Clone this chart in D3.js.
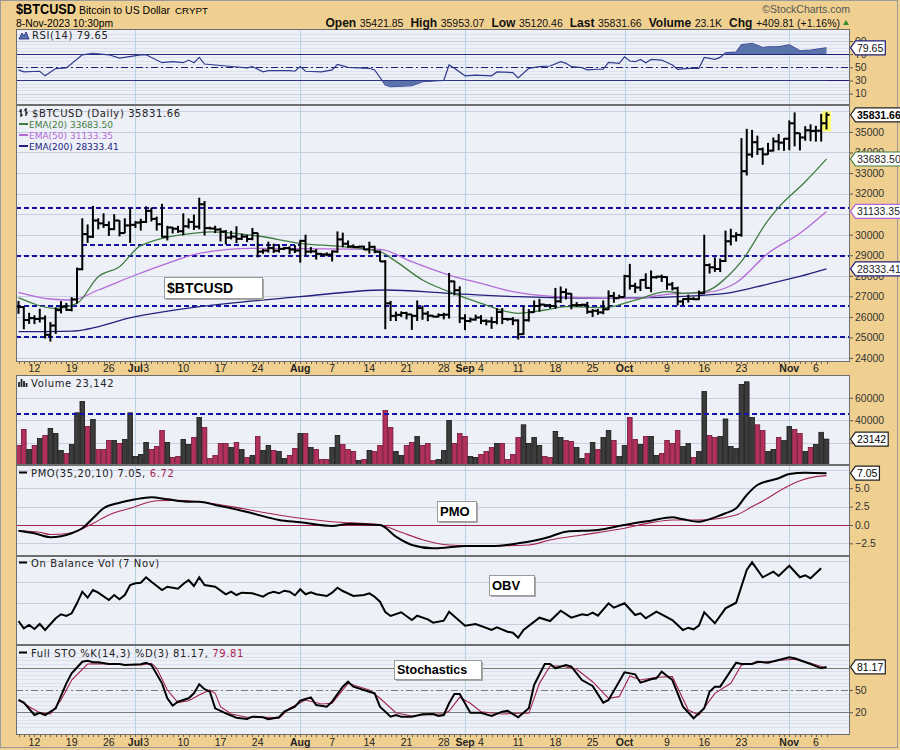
<!DOCTYPE html>
<html><head><meta charset="utf-8">
<script src="https://cdn.jsdelivr.net/npm/d3@7/dist/d3.min.js"></script>
<style>body{margin:0;background:#F0D090;}svg{display:block;}</style>
</head><body>
<svg id="chart" width="900" height="750"></svg>
<script>
// ---------------- DATA ----------------
const startDate = "2023-06-09"; // first daily bar; one bar per calendar day
const opens = [26500,26480,25850,25940,25900,25930,25130,25580,26330,26510,
26340,26850,28320,30030,29900,30690,30550,30470,30270,30690,
30080,30450,30480,30590,30620,31160,30770,30510,29900,30350,
30290,30170,30410,30620,30390,31480,30320,30300,30250,30150,
29860,29910,29800,29910,29790,30080,29180,29230,29350,29220,
29310,29350,29280,29230,29700,29180,29190,29070,29040,29030,
29180,29770,29560,29430,29400,29420,29280,29410,29170,28700,
26660,26050,26100,26190,26120,26050,26430,26160,26060,26010,
26090,26110,27730,27300,25930,25800,25870,25970,25810,25780,
25750,26240,25900,25890,25830,25160,25840,26230,26530,26600,
26570,26530,26760,27210,27130,26570,26580,26590,26250,26300,
26220,26370,27020,26910,26970,27980,27510,27430,27800,27410,
27930,27960,27940,27580,27390,26750,26870,26880,26860,27150,
28520,28410,28330,28720,29680,29920,29990,33090,33900,34500,
34160,33910,34090,34540,34480,34670,35420,34940,34730,35080,
35050,35060,35421.85];
const highs = [26780,26530,26200,26080,26400,26070,25750,26460,26770,26680,
26960,28400,30800,30500,31400,30800,31040,30650,31000,30700,
30800,31280,30660,30780,31380,31320,30880,31500,30430,30380,
30430,31040,30790,30980,31800,31640,30390,30440,30330,30230,
30190,30410,30050,29990,30330,30100,29300,29660,29560,29530,
29410,29440,29490,29750,30000,29400,29300,29100,29140,29240,
30160,30100,29720,29530,29460,29460,29660,29460,29230,28760,
26780,26260,26270,26250,26130,26800,26550,26280,26080,26170,
26200,28140,27760,27490,26130,25970,26110,26090,25880,26000,
26420,26430,25940,25990,25880,26540,26380,26800,26880,26620,
26630,27410,27480,27380,27150,26720,26640,26730,26380,26390,
26800,27290,27210,27080,28050,28580,27660,27830,28120,28260,
28000,28060,27980,27700,27470,26900,27080,26960,27280,30000,
28600,28900,28840,30200,30290,30120,34700,35150,35100,34820,
34240,34470,34730,34900,34700,35560,35950,34950,35280,35370,
35300,35880,35953.07];
const lows = [26150,25400,25660,25650,25730,24950,24800,25170,26170,26290,
26270,26650,28270,29600,29840,30260,30330,29940,30220,29920,
30070,29600,30330,30200,30570,30640,30200,29860,29720,30060,
30090,29970,30300,30230,30260,29960,30260,30080,29670,29530,
29770,29590,29740,29640,29730,28900,29070,29130,29110,29130,
29260,29050,29110,28640,28980,29100,28790,28960,28950,28700,
29120,29390,29370,29360,29360,29250,29080,29100,28700,25400,
25800,25800,26000,25880,25370,25800,25860,25790,25980,25980,
25880,25920,27050,25700,25360,25730,25820,25650,25590,25420,
25640,25650,25810,25600,24900,25130,25770,26210,26250,26480,
26410,26390,26680,26850,26370,26490,26510,26150,26000,26100,
26130,26330,26690,26900,26950,27330,27160,27260,27380,27200,
27860,27700,27320,27290,26560,26560,26700,26820,26820,27110,
28110,28190,28180,28670,29480,29670,29900,32880,33750,33880,
33400,33890,34050,34110,34080,34110,34300,34100,34570,34550,
34530,34530,35120.46];
const closes = [26480,25850,25940,25900,25930,25130,25580,26330,26510,26340,
26850,28320,30030,29900,30690,30550,30470,30270,30690,30080,
30450,30480,30590,30620,31160,30770,30510,29900,30350,30290,
30170,30410,30620,30390,31480,30320,30300,30250,30150,29860,
29910,29800,29910,29790,30080,29180,29230,29350,29220,29310,
29350,29280,29230,29700,29180,29190,29070,29040,29030,29180,
29770,29560,29430,29400,29420,29280,29410,29170,28700,26660,
26050,26100,26190,26120,26050,26430,26160,26060,26010,26090,
26110,27730,27300,25930,25800,25870,25970,25810,25780,25750,
26240,25900,25890,25830,25160,25840,26230,26530,26600,26570,
26530,26760,27210,27130,26570,26580,26590,26250,26300,26220,
26370,27020,26910,26970,27980,27510,27430,27800,27410,27930,
27960,27940,27580,27390,26750,26870,26880,26860,27150,28520,
28410,28330,28720,29680,29920,29990,33090,33900,34500,34160,
33910,34090,34540,34480,34670,35420,34940,34730,35080,35050,
35060,35421.85,35831.66];
const volumes = [17400,31700,13800,17400,23700,26300,32600,28100,13000,10300,
18300,46600,56700,34400,40600,13800,13800,21900,21900,19200,
22800,46600,7600,9400,20100,13800,16500,30800,20100,6700,
7600,22800,18300,24600,42400,33500,5800,8500,19200,19200,
15600,20100,13800,6700,8500,25500,13000,17400,13000,12100,
5800,8500,14700,28100,28100,15600,13800,4900,4900,15600,
26300,18300,13800,12100,4000,4900,13000,12100,17400,48700,
33500,12100,8500,17400,20100,25500,17400,19200,4000,4900,
12900,39700,19200,28100,25500,7600,6700,9400,12100,15600,
19200,19200,4900,9400,24600,35900,19200,24600,17400,7600,
6700,30000,24600,21900,21000,15600,5800,10300,20100,13800,
24600,30800,21900,7600,17400,42400,22800,18300,25500,25500,
8500,10300,21900,19200,30800,16500,19200,6700,12100,65600,
26300,24600,25500,41100,16500,14700,71900,74300,42400,35900,
30800,12100,13800,24600,21900,34400,31700,28100,12100,15600,
18300,29200,23142];
// indicator readings: [day index, value]
const ema20 = [[0,26935],[7,26418],[11,26660],[15,27956],[19,28443],[23,29465],[34,30097],[36,30140],[45,29937],[53,29580],[61,29416],[68,29173],[71,28700],[76,27796],[81,27226],[87,26662],[94,26175],[99,26336],[103,26496],[110,26450],[116,26822],[122,27226],[125,27148],[129,27226],[134,28122],[136,28700],[141,30700],[143,31333],[148,32579],[152,33683.5]];
const ema50 = [[0,27197],[6,26871],[10,26822],[15,27309],[22,28039],[28,28608],[34,29095],[44,29338],[53,29320],[68,29290],[74,28686],[81,28039],[87,27635],[93,27226],[101,26983],[111,26905],[116,26900],[122,27100],[125,27148],[129,27178],[135,27665],[141,29095],[147,30068],[152,31133.35]];
const ema200 = [[0,25280],[10,25310],[22,26010],[34,26496],[53,26983],[69,27309],[81,27148],[94,26983],[111,26900],[128,27040],[134,27180],[141,27600],[147,27970],[152,28333.41]];
const rsi = [[0,46],[1,43],[4,44],[5,37],[7,48],[9,49],[12,69],[14,71],[17,69],[19,64],[23,69],[24,69],[27,57],[29,58.5],[31,57],[32,61],[33,57],[34,65],[35,55],[39,52],[43,49],[44,51],[46,43],[47,45],[51,45],[52,44],[53,51],[54,44],[57,43],[59,46],[60,54.5],[62,50],[66,48.5],[67,46],[69,23],[70,20.5],[74,22],[76,28],[79,29.6],[80,30],[81,53.5],[82,48.5],[84,37],[86,38],[89,37],[90,43],[93,42],[94,34],[96,48.5],[98,51],[100,52],[102,58.5],[103,56],[104,51],[106,49.4],[107,46],[109,47],[110,47],[111,57.6],[113,56],[114,66],[115,59.6],[116,58.5],[117,62],[118,57],[119,62],[121,61],[123,53.5],[124,47],[126,48.5],[128,48.5],[129,65],[131,62],[132,65],[133,72],[135,73],[136,84],[138,86.5],[140,80],[141,81],[143,81],[145,84],[147,75],[149,76],[152,79.65]];
const pmo = [[0,-0.78],[3,-1.13],[6,-1.67],[10,-1.13],[12,-0.45],[14,0.91],[16,2.27],[19,3.03],[22,3.5],[25,3.77],[28,3.5],[32,3.17],[34,3.17],[37,2.72],[40,2.27],[44,1.59],[49,0.68],[53,0.37],[59,-0.14],[62,0.14],[68,0],[71,-1.59],[74,-2.72],[78,-3.17],[81,-3.03],[84,-2.86],[89,-2.86],[94,-2.49],[100,-1.59],[103,-0.91],[109,-0.68],[114,0],[119,0.59],[123,1.04],[125,0.77],[128,0.45],[131,1.04],[133,1.59],[135,2.27],[137,4.08],[139,5.44],[143,6.35],[145,6.94],[148,7.12],[152,7.05]];
const pmoSignal = [[0,-0.78],[4,-1.0],[6,-1.3],[9,-1.2],[12,-0.5],[14,0.2],[17,1.36],[21,2.27],[26,3.3],[29,3.35],[34,3.17],[40,2.5],[47,1.59],[53,0.91],[59,0.45],[68,0],[72,-1.0],[76,-2.0],[81,-2.72],[87,-2.86],[96,-2.72],[100,-2.04],[106,-1.36],[114,-0.45],[119,0.32],[123,0.68],[128,0.68],[135,1.36],[138,2.5],[141,3.67],[144,5.0],[147,6.03],[150,6.58],[152,6.72]];
const obv = [[0,380],[1,234],[2,300],[3,220],[4,320],[5,200],[7,434],[8,514],[9,480],[10,534],[11,734],[12,966],[13,846],[14,1000],[15,946],[17,800],[18,900],[19,814],[20,900],[21,1100],[22,1134],[23,1146],[24,1254],[25,1166],[27,1000],[28,1066],[30,1026],[31,1120],[32,1200],[33,1080],[34,1254],[35,1100],[37,1066],[39,914],[40,966],[41,900],[42,946],[44,934],[46,866],[47,934],[48,966],[49,934],[50,986],[51,966],[52,894],[53,1014],[54,914],[55,954],[56,914],[58,880],[59,946],[60,1046],[61,980],[63,880],[65,900],[66,934],[67,866],[68,766],[69,560],[70,480],[72,554],[74,400],[75,486],[77,414],[78,346],[80,386],[81,566],[84,286],[86,320],[89,200],[90,254],[92,166],[93,146],[94,46],[95,200],[98,446],[100,380],[102,586],[104,446],[106,514],[107,494],[108,546],[109,486],[111,734],[112,646],[114,734],[116,500],[117,534],[118,434],[120,566],[123,400],[125,200],[126,246],[127,214],[128,286],[129,554],[131,334],[133,634],[135,746],[137,1400],[138,1554],[140,1254],[142,1366],[143,1280],[145,1486],[147,1254],[148,1294],[149,1234],[151,1434]];
const stoK = [[0,36.5],[1,32.9],[3,16.2],[4,19.3],[5,16.2],[7,25.3],[9,59],[10,72.5],[12,88.2],[13,89.6],[14,87.4],[15,87.4],[17,85.1],[19,85.1],[20,83.8],[23,84.7],[24,86.9],[25,83.8],[27,59],[28,38.8],[29,28.8],[30,34.2],[32,38.8],[33,45.5],[34,57.7],[35,51],[36,47.7],[37,25.3],[39,18.5],[41,12.6],[43,10.8],[44,14],[46,13.1],[47,10.4],[49,13.1],[50,20.7],[52,27.4],[53,35.5],[55,40.1],[56,29.7],[58,27.4],[59,34.2],[61,54.5],[62,61.2],[63,54.5],[66,47.7],[67,45.5],[68,27.4],[70,14],[71,16.2],[72,14],[74,14],[76,17.2],[78,17.6],[79,14.9],[80,16.2],[81,32],[82,44.6],[83,44.6],[85,19.3],[87,19.3],[89,14.9],[91,20.7],[92,22],[94,13.1],[96,25.3],[97,56.8],[99,85.1],[100,85.1],[101,79.3],[103,83.8],[104,81.5],[106,63.5],[108,55.4],[110,32.9],[111,36.5],[114,73.9],[116,71.2],[117,59.9],[119,64.5],[120,65.8],[121,74.7],[123,63.5],[125,27.4],[127,11.8],[129,25.3],[130,47.7],[131,54.5],[132,54.5],[135,86.9],[136,85.1],[138,85.1],[139,88.2],[141,86.9],[143,90.5],[145,94.2],[146,92.8],[149,85.1],[151,79.3],[152,81.17]];
const stoD = [[0,36.5],[2,27.4],[4,19.3],[6,17.6],[8,36.5],[10,63.5],[13,85.1],[15,85.5],[23,83.8],[25,86],[26,79.3],[28,50],[30,32.9],[32,35.5],[34,43.2],[36,50],[37,45.5],[38,27.4],[40,17.6],[43,13.1],[47,13.1],[49,11.8],[51,25.3],[54,36.5],[57,31],[59,32],[62,59],[66,50],[68,38.8],[71,19.3],[74,14.9],[78,17.6],[80,17.6],[81,21.6],[83,40.1],[85,32],[87,20.7],[91,17.6],[94,18.5],[96,18.5],[98,59],[100,82.4],[102,82.4],[105,78],[108,61.2],[111,38.8],[113,41],[115,68.9],[117,63.5],[120,67.2],[123,68],[126,23],[128,16.2],[131,45.5],[134,59],[136,83.8],[139,86.9],[144,90.5],[146,91.5],[149,86.1],[152,79.81]];
const priceLevels = [[31333,0,152],[29000,0,152],[26600,0,152],[25050,0,152],[29530,12,53]];
const volumeLevel = 46900;
const tickLabels = [["2023-06-12","12"],["2023-06-19","19"],["2023-06-26","26"],["2023-07-01","Jul"],["2023-07-03","3"],["2023-07-10","10"],["2023-07-17","17"],["2023-07-24","24"],["2023-08-01","Aug"],["2023-08-07","7"],["2023-08-14","14"],["2023-08-21","21"],["2023-08-28","28"],["2023-09-01","Sep"],["2023-09-04","4"],["2023-09-11","11"],["2023-09-18","18"],["2023-09-25","25"],["2023-10-01","Oct"],["2023-10-09","9"],["2023-10-16","16"],["2023-10-23","23"],["2023-11-01","Nov"],["2023-11-06","6"]];
const priceTicks = [24000,25000,26000,27000,28000,29000,30000,32000,33000,34000,35000];
const priceGrid = [24000,25000,26000,27000,28000,29000,30000,31000,32000,33000,34000,35000,36000];
const rsiTicks = [10,30,50,70,90];
const volTicks = [20000,40000,60000];
const pmoTicks = [-2.5,0,2.5,5];
const stoTicks = [20,50];
const obvGrid = [330,750,1170,1590];
const headerStats = [["Open","35421.85"],["High","35953.07"],["Low","35120.46"],["Last","35831.66"],["Volume","23.1K"],["Chg","+409.81 (+1.16%)"]];

// ---------------- DRAW ----------------
const svg = d3.select("#chart");
const L = 16, R = 850;
const P = {rsi:[29,105], price:[105,362], vol:[375,465], pmo:[465,556], obv:[556,645], sto:[645,735]};
const BG = "#F0D090", PLOT = "#EEF0F8", GRID = "#C9CFDF", MINOR = "#DDE1EE", MONTH = "#B6D2E2";
const SANS = "'Liberation Sans', Arial, sans-serif", VER = "'DejaVu Sans', Verdana, sans-serif";
const NAVY = "#1E1E78", CRIM = "#A3234F";

svg.append("rect").attr("width",900).attr("height",750).attr("fill",BG);
svg.append("rect").attr("x",0.5).attr("y",0.5).attr("width",897).attr("height",747).attr("fill","none").attr("stroke","#9a9a9a");

const parse = d3.timeParse("%Y-%m-%d");
const start = parse(startDate);
const dayOf = i => d3.timeDay.offset(start, i);
const N = closes.length;
const x = d3.scaleTime().domain([dayOf(0), dayOf(N-1)]).range([18.5, 826.5]);
const xi = i => x(dayOf(i));

const yR = d3.scaleLinear().domain([-7.3,108.2]).range([105,29]);
const yP = d3.scaleLinear().domain([23806,36311]).range([362,105]);
const yV = d3.scaleLinear().domain([0,80400]).range([465,375]);
const yM = d3.scaleLinear().domain([-4.22,8.16]).range([556,465]);
const yO = d3.scaleLinear().domain([-100,1680]).range([645,556]);
const yS = d3.scaleLinear().domain([-10.8,110.8]).range([735,645]);

const defs = svg.append("defs");
Object.entries(P).forEach(([k,[y0,y1]]) => {
  svg.append("rect").attr("x",L).attr("y",y0).attr("width",R-L).attr("height",y1-y0).attr("fill",PLOT);
  defs.append("clipPath").attr("id","clip-"+k).append("rect").attr("x",L).attr("y",y0).attr("width",R-L).attr("height",y1-y0);
});
const layer = k => svg.append("g").attr("clip-path",`url(#clip-${k})`);

function hline(g, y, color, w, dash, x0=L, x1=R){
  const l = g.append("line").attr("x1",x0).attr("x2",x1).attr("y1",y).attr("y2",y)
    .attr("stroke",color).attr("stroke-width",w).attr("shape-rendering","crispEdges");
  if(dash) l.attr("stroke-dasharray",dash);
  return l;
}

// grids
const gR = layer("rsi");
d3.range(0,101,5).forEach(v => hline(gR, Math.round(yR(v))+0.5, MINOR, 1));
[10,90].forEach(v => hline(gR, Math.round(yR(v))+0.5, GRID, 1));
const gP = layer("price");
priceGrid.forEach(v => hline(gP, Math.round(yP(v))+0.5, GRID, 1));
const gV = layer("vol");
[20000,40000,60000,80000].forEach(v => hline(gV, Math.round(yV(v))+0.5, GRID, 1));
const gM = layer("pmo");
[-2.5,2.5,5,7.5].forEach(v => hline(gM, Math.round(yM(v))+0.5, GRID, 1));
const gO = layer("obv");
obvGrid.forEach(v => hline(gO, Math.round(yO(v))+0.5, GRID, 1));
const gS = layer("sto");
d3.range(0,101,5).forEach(v => hline(gS, Math.round(yS(v))+0.5, MINOR, 1));

// month lines
const monthStarts = tickLabels.filter(d => /[A-Za-z]/.test(d[1])).map(d => parse(d[0]));
[gR,gP,gV,gM,gO,gS].forEach((g,j) => {
  const [y0,y1] = Object.values(P)[j];
  monthStarts.forEach(d => g.append("line").attr("x1",Math.round(x(d))+0.5).attr("x2",Math.round(x(d))+0.5)
    .attr("y1",y0).attr("y2",y1).attr("stroke",MONTH).attr("stroke-width",1));
});

// ---- RSI ----
const FILL = "#5B73AB";
defs.append("clipPath").attr("id","rsiHi").append("rect").attr("x",L).attr("y",P.rsi[0]).attr("width",R-L).attr("height",yR(70)-P.rsi[0]);
defs.append("clipPath").attr("id","rsiLo").append("rect").attr("x",L).attr("y",yR(30)).attr("width",R-L).attr("height",P.rsi[1]-yR(30));
svg.append("path").datum(rsi).attr("d",d3.area().x(d=>xi(d[0])).y0(yR(70)).y1(d=>yR(d[1]))).attr("fill",FILL).attr("clip-path","url(#rsiHi)");
svg.append("path").datum(rsi).attr("d",d3.area().x(d=>xi(d[0])).y0(yR(30)).y1(d=>yR(d[1]))).attr("fill",FILL).attr("clip-path","url(#rsiLo)");
hline(gR, Math.round(yR(70))+0.5, NAVY, 1.3);
hline(gR, Math.round(yR(30))+0.5, NAVY, 1.3);
hline(gR, Math.round(yR(50))+0.5, NAVY, 1, "7,3,2,3");
gR.append("path").datum(rsi).attr("d",d3.line().x(d=>xi(d[0])).y(d=>yR(d[1]))).attr("fill","none").attr("stroke","#2E3A8C").attr("stroke-width",1.2);

// ---- PRICE ----
priceLevels.forEach(([v,a,b]) => {
  const x0 = (a===0) ? L : xi(a), x1 = (b===N-1) ? R : xi(b);
  hline(gP, Math.round(yP(v))+0.5, "#1414A8", 2, "5,3", x0, x1);
});
const emaLine = d3.line().x(d=>xi(d[0])).y(d=>yP(d[1])).curve(d3.curveMonotoneX);
gP.append("path").datum(ema200).attr("d",emaLine).attr("fill","none").attr("stroke","#22227E").attr("stroke-width",1.3);
gP.append("path").datum(ema50).attr("d",emaLine).attr("fill","none").attr("stroke","#B46AD6").attr("stroke-width",1.3);
gP.append("path").datum(ema20).attr("d",emaLine).attr("fill","none").attr("stroke","#3F7C3F").attr("stroke-width",1.3);
// last bar highlight
gP.append("rect").attr("x",xi(N-1)-4.5).attr("y",yP(highs[N-1])-1).attr("width",9).attr("height",yP(lows[N-1])-yP(highs[N-1])+3).attr("fill","#FFFF70");
const bars = gP.selectAll("g.bar").data(d3.range(N)).join("g").attr("class","bar");
bars.append("line").attr("x1",i=>xi(i)).attr("x2",i=>xi(i)).attr("y1",i=>yP(highs[i])).attr("y2",i=>yP(lows[i])).attr("stroke","#000").attr("stroke-width",2);
bars.append("line").attr("x1",i=>xi(i)-3).attr("x2",i=>xi(i)).attr("y1",i=>yP(opens[i])).attr("y2",i=>yP(opens[i])).attr("stroke","#000").attr("stroke-width",2);
bars.append("line").attr("x1",i=>xi(i)).attr("x2",i=>xi(i)+3).attr("y1",i=>yP(closes[i])).attr("y2",i=>yP(closes[i])).attr("stroke","#000").attr("stroke-width",2);

// ---- VOLUME ----
const isUp = i => i===0 ? closes[0]>=opens[0] : closes[i]>=closes[i-1];
gV.selectAll("rect.v").data(d3.range(N)).join("rect").attr("class","v")
  .attr("x",i=>xi(i)-2.3).attr("width",4.6)
  .attr("y",i=>yV(volumes[i])).attr("height",i=>yV(0)-yV(volumes[i]))
  .attr("fill",i=>isUp(i)?"#3C3C3C":"#B2305C").attr("stroke",i=>isUp(i)?"#161616":"#701535").attr("stroke-width",0.8);
hline(gV, Math.round(yV(volumeLevel))+0.5, "#1414A8", 2, "5,3");

// ---- PMO ----
hline(gM, Math.round(yM(0))+0.5, CRIM, 1.2);
const pl = d3.line().x(d=>xi(d[0])).y(d=>yM(d[1])).curve(d3.curveMonotoneX);
gM.append("path").datum(pmoSignal).attr("d",pl).attr("fill","none").attr("stroke",CRIM).attr("stroke-width",1.1);
gM.append("path").datum(pmo).attr("d",pl).attr("fill","none").attr("stroke","#000").attr("stroke-width",2);

// ---- OBV ----
gO.append("path").datum(obv).attr("d",d3.line().x(d=>xi(d[0])).y(d=>yO(d[1]))).attr("fill","none").attr("stroke","#000").attr("stroke-width",2);

// ---- STO ----
hline(gS, Math.round(yS(80))+0.5, "#7A7A7A", 1.2);
hline(gS, Math.round(yS(20))+0.5, "#7A7A7A", 1.2);
hline(gS, Math.round(yS(50))+0.5, "#7A7A7A", 1, "7,3,2,3");
const sl = d3.line().x(d=>xi(d[0])).y(d=>yS(d[1]));
gS.append("path").datum(stoD).attr("d",sl).attr("fill","none").attr("stroke",CRIM).attr("stroke-width",1.1);
gS.append("path").datum(stoK).attr("d",sl).attr("fill","none").attr("stroke","#000").attr("stroke-width",2);

// frames
Object.values(P).forEach(([y0,y1]) => svg.append("rect").attr("x",L+0.5).attr("y",y0+0.5).attr("width",R-L-1).attr("height",y1-y0-1)
  .attr("fill","none").attr("stroke","#6E6E6E").attr("stroke-width",1));

// right axes
function rightAxis(scale, vals, fmt){
  const g = svg.append("g").attr("transform",`translate(${R},0)`)
    .call(d3.axisRight(scale).tickValues(vals).tickFormat(fmt).tickSize(3).tickPadding(2));
  g.select(".domain").remove();
  g.selectAll("text").attr("font-family",SANS).attr("font-size","10.5px").attr("fill","#333");
  g.selectAll("line").attr("stroke","#555");
}
rightAxis(yR, rsiTicks, d3.format("d"));
rightAxis(yP, priceTicks, d3.format("d"));
rightAxis(yV, volTicks, d3.format("d"));
rightAxis(yM, pmoTicks, d3.format(".1f"));
rightAxis(yS, stoTicks, d3.format("d"));

// value tags
function tag(y, s, stroke, color, bold){
  const g = svg.append("g");
  const p = g.append("path");
  const t = g.append("text").attr("x",R+7).attr("y",y+4).text(s).attr("font-family",SANS)
    .attr("font-size","10.5px").attr("fill",color).attr("font-weight",bold?"bold":"normal");
  const w = t.node().getComputedTextLength();
  p.attr("d",`M${R+0.5},${y} L${R+5.5},${y-7} H${R+9+w} V${y+7} H${R+5.5} Z`).attr("fill","#fff").attr("stroke",stroke).attr("stroke-width",1.2);
}
tag(yR(79.65), "79.65", NAVY, "#111", false);
tag(yP(35831.66), "35831.66", "#222", "#000", true);
tag(yP(33683.50), "33683.50", "#3F7C3F", "#222", false);
tag(yP(31133.35), "31133.35", "#B46AD6", "#222", false);
tag(yP(28333.41), "28333.41", "#22227E", "#222", false);
tag(yV(23142), "23142", "#222", "#000", false);
tag(yM(7.05), "7.05", "#222", "#000", false);
tag(yS(81.17), "81.17", "#222", "#000", false);

// x-axis labels & day ticks
function xLabels(yBase, yTick){
  const g = svg.append("g");
  d3.range(N).forEach(i => g.append("line").attr("x1",Math.round(xi(i))+0.5).attr("x2",Math.round(xi(i))+0.5)
    .attr("y1",yTick).attr("y2",yTick+2).attr("stroke","#666").attr("stroke-width",1));
  tickLabels.forEach(([d,s]) => {
    const bold = /[A-Za-z]/.test(s);
    g.append("text").attr("x",x(parse(d))).attr("y",yBase).attr("text-anchor","middle").text(s)
      .attr("font-family",SANS).attr("font-size","10.5px").attr("font-weight",bold?"bold":"normal").attr("fill","#222");
  });
}
xLabels(372, 362);
xLabels(745.5, 735);

// header
function txt(xp, yp, s, o={}){
  const t = svg.append("text").attr("x",xp).attr("y",yp).text(s)
    .attr("font-family",o.f||SANS).attr("font-size",o.s||"11px").attr("fill",o.c||"#000");
  if(o.w) t.attr("font-weight",o.w);
  if(o.a) t.attr("text-anchor",o.a);
  if(o.ls) t.attr("letter-spacing",o.ls);
  if(o.tl) t.attr("textLength",o.tl).attr("lengthAdjust","spacingAndGlyphs");
  return t;
}
txt(16,14,"$BTCUSD",{s:"14px",w:"bold",tl:60});
txt(79,14,"Bitcoin to US Dollar",{s:"11px",tl:91});
txt(175,14,"CRYPT",{s:"9.5px",tl:33});
txt(16,26.5,"8-Nov-2023 10:30pm",{s:"10.5px",tl:97});
txt(850,13,"\u00A9StockCharts.com",{s:"10.5px",a:"end",c:"#555"});
const ht = svg.append("text").attr("x",840).attr("y",26.5).attr("text-anchor","end").attr("font-family",SANS).attr("fill","#111");
headerStats.forEach(([k,v],j) => {
  ht.append("tspan").attr("dx",j?7:0).attr("font-weight","bold").attr("font-size","12px").text(k);
  ht.append("tspan").attr("dx",3.5).attr("font-size","10.5px").text(v);
});
svg.append("path").attr("d","M843,25 L849,25 L846,20 Z").attr("fill","#2E8B2E");

// panel legends
const lg = {f:VER, s:"10px", ls:"0.6px", c:"#222"};
svg.append("path").attr("d","M19,39 L22,33 L24,36 L26,32 L29,39 Z").attr("fill",FILL).attr("stroke",NAVY).attr("stroke-width",0.8);
txt(32,39,"RSI(14) 79.65",lg);
svg.append("path").attr("d","M21,109V117M19,111H21M21,115H23M26,108V116M24,110H26M26,113H28").attr("stroke","#000").attr("stroke-width",1.2).attr("fill","none");
txt(32,116.5,"$BTCUSD (Daily) 35831.66",lg);
[["EMA(20) 33683.50","#3F7C3F",127.5],["EMA(50) 31133.35","#B46AD6",138.5],["EMA(200) 28333.41","#22227E",149.5]].forEach(([s,c,yy]) => {
  svg.append("line").attr("x1",19).attr("x2",28).attr("y1",yy-3.5).attr("y2",yy-3.5).attr("stroke",c).attr("stroke-width",2);
  txt(29,yy,s,{f:VER,s:"9px",c:c});
});
svg.append("path").attr("d","M19,387V382M21.5,387V379M24,387V381M26.5,387V383").attr("stroke","#222").attr("stroke-width",1.8);
txt(31,386.5,"Volume 23,142",lg);
svg.append("line").attr("x1",19).attr("x2",27).attr("y1",472.5).attr("y2",472.5).attr("stroke","#000").attr("stroke-width",2);
const pt = txt(31,476.5,"PMO(35,20,10) 7.05, ",lg);
pt.append("tspan").attr("fill",CRIM).text("6.72");
svg.append("line").attr("x1",19).attr("x2",27).attr("y1",562.5).attr("y2",562.5).attr("stroke","#000").attr("stroke-width",2);
txt(31,566.5,"On Balance Vol (7 Nov)",lg);
svg.append("line").attr("x1",19).attr("x2",27).attr("y1",652.5).attr("y2",652.5).attr("stroke","#000").attr("stroke-width",2);
const st = txt(31,656.5,"Full STO %K(14,3) %D(3) 81.17, ",lg);
st.append("tspan").attr("fill",CRIM).text("79.81");

// annotation boxes
function note(x0,y0,w,h,s,fs){
  svg.append("rect").attr("x",x0+2).attr("y",y0+2).attr("width",w).attr("height",h).attr("fill","#A8A8A8");
  svg.append("rect").attr("x",x0+0.5).attr("y",y0+0.5).attr("width",w).attr("height",h).attr("fill","#fff").attr("stroke","#9A9A9A");
  txt(x0+3,y0+h/2+fs*0.36,s,{s:fs+"px",w:"bold",c:"#000"});
}
note(164,277,98,21,"$BTCUSD",14);
note(437,501,39,20,"PMO",13);
note(489,575,45,20,"OBV",13);
note(394,660,87,19,"Stochastics",12.5);
</script>
</body></html>
